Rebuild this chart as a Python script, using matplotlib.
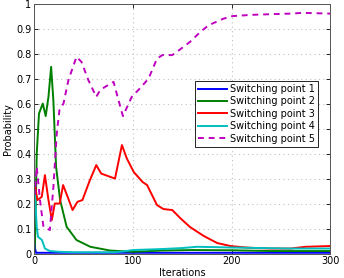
import matplotlib
matplotlib.use("Agg")
import matplotlib.pyplot as plt

# iterations / probabilities
it1 = [0, 0.5, 1, 2, 300]
p1 = [0.24, 0.12, 0.02, 0.003, 0.003]

it2 = [0, 1, 2.7, 5, 8.8, 11.8, 14.6, 17.3, 19.6, 22.3, 26.4, 33, 43, 57, 77, 100, 130, 160, 200, 240, 300]
p2 = [0.0, 0.05, 0.4, 0.56, 0.6, 0.55, 0.627, 0.747, 0.61, 0.347, 0.214, 0.107, 0.054, 0.027, 0.012, 0.007, 0.012, 0.014, 0.013, 0.01, 0.01]

it3 = [0, 1, 3.5, 7.8, 11, 14.6, 18, 21, 26, 29.4, 34, 39, 44, 49, 56, 63, 68, 77, 82, 89, 94, 101, 110, 114.5, 124.5, 131, 140, 148, 158, 172, 185.5, 199, 212, 224, 240, 260, 275, 300]
p3 = [0.25, 0.27, 0.214, 0.227, 0.314, 0.214, 0.134, 0.2, 0.2, 0.274, 0.227, 0.174, 0.207, 0.214, 0.288, 0.354, 0.32, 0.307, 0.30, 0.434, 0.38, 0.326, 0.286, 0.274, 0.194, 0.178, 0.174, 0.142, 0.106, 0.07, 0.042, 0.03, 0.025, 0.022, 0.02, 0.02, 0.027, 0.03]

it4 = [0, 1, 2.7, 4, 8, 11, 16, 25, 40, 60, 80, 90, 100, 130, 150, 165, 180, 200, 230, 260, 300]
p4 = [0.25, 0.227, 0.107, 0.067, 0.054, 0.02, 0.01, 0.007, 0.005, 0.005, 0.005, 0.008, 0.014, 0.018, 0.022, 0.027, 0.026, 0.024, 0.022, 0.02, 0.02]

it5 = [0, 1, 2.7, 6, 9.5, 16, 19.6, 23, 25.7, 29.8, 34.8, 43, 48, 55, 63, 67, 72, 80.5, 85.5, 90, 99, 107, 116, 124.5, 130, 140, 148, 158, 168.5, 177, 184, 192, 201, 220, 242, 260, 272, 300]
p5 = [0.3, 0.24, 0.347, 0.214, 0.107, 0.094, 0.267, 0.48, 0.574, 0.6, 0.694, 0.787, 0.767, 0.694, 0.627, 0.654, 0.667, 0.687, 0.614, 0.55, 0.627, 0.66, 0.70, 0.78, 0.794, 0.794, 0.817, 0.847, 0.887, 0.914, 0.926, 0.94, 0.95, 0.955, 0.958, 0.96, 0.963, 0.96]

labels = ["Switching point 1", "Switching point 2", "Switching point 3",
          "Switching point 4", "Switching point 5"]

fig = plt.figure(figsize=(3.44, 2.78), dpi=100)
ax = fig.add_axes([0.099, 0.088, 0.861, 0.899])

ax.plot(it1, p1, color=(0, 0, 1), lw=1.4, label=labels[0])
ax.plot(it2, p2, color=(0, 0.5, 0), lw=1.4, label=labels[1])
ax.plot(it3, p3, color=(1, 0, 0), lw=1.4, label=labels[2])
ax.plot(it4, p4, color=(0, 0.75, 0.75), lw=1.4, label=labels[3])
ax.plot(it5, p5, color=(0.75, 0, 0.75), lw=1.4, ls=(0, (3, 2.5)), label=labels[4])

ax.set_xlim(0, 300)
ax.set_ylim(0, 1)
ax.set_xticks([0, 100, 200, 300])
ax.set_yticks([i / 10 for i in range(11)])
ax.set_yticklabels(["0", "0.1", "0.2", "0.3", "0.4", "0.5", "0.6", "0.7", "0.8", "0.9", "1"])
ax.tick_params(direction="in", labelsize=7, length=3, width=0.6, pad=2, top=True, right=True)
ax.grid(True, linestyle=(0, (1, 3)), color="#c0c0c0", linewidth=0.8)
for s in ax.spines.values():
    s.set_color("#555555")
    s.set_linewidth(0.7)

ax.set_xlabel("Iterations", fontsize=7, labelpad=1)
ax.set_ylabel("Probability", fontsize=7, labelpad=2)

leg = ax.legend(loc="upper right", bbox_to_anchor=(0.96, 0.69), fontsize=7,
                fancybox=False, framealpha=1, edgecolor="black",
                handlelength=2.9, borderpad=0.3, labelspacing=0.25,
                handletextpad=0.4, borderaxespad=0)
leg.get_frame().set_linewidth(0.6)

fig.savefig("out.png", dpi=100)
